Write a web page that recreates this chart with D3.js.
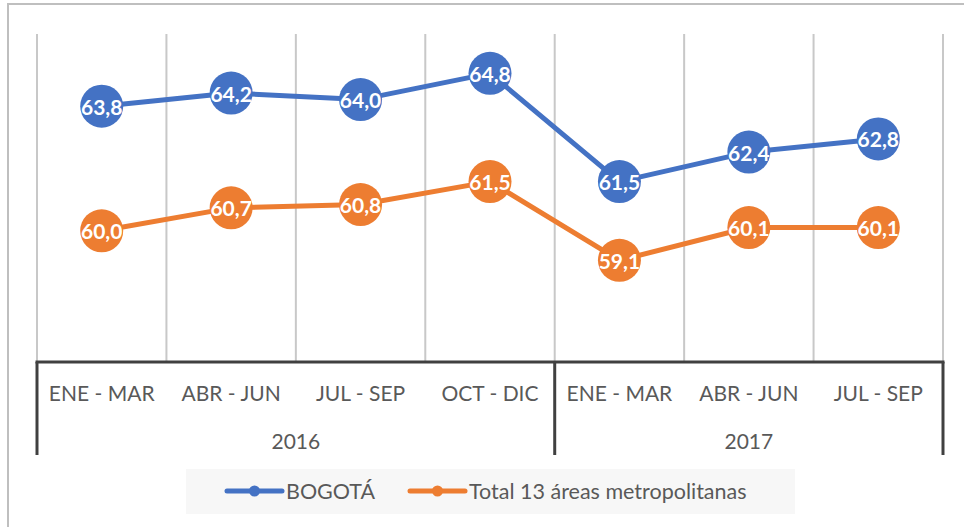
<!DOCTYPE html>
<html><head><meta charset="utf-8">
<script src="https://cdn.jsdelivr.net/npm/d3@7"></script>
<style>html,body{margin:0;padding:0;background:#fff;}svg{display:block;}</style>
</head><body>
<svg id="chart" width="964" height="527"></svg>
<script>
const quarters = ["ENE - MAR","ABR - JUN","JUL - SEP","OCT - DIC","ENE - MAR","ABR - JUN","JUL - SEP"];
const years = ["2016","2017"];
const yearSpans = [4,3];
const seriesNames = ["BOGOTÁ","Total 13 áreas metropolitanas"];
const bogota = [63.8,64.2,64.0,64.8,61.5,62.4,62.8];
const total13 = [60.0,60.7,60.8,61.5,59.1,60.1,60.1];
const colors = ["#4472C4","#ED7D31"];

const font = "Lato, 'Liberation Sans', sans-serif";
const svg = d3.select("#chart");
const L=37, R=943, T=34, B=362;

// outer border
svg.append("rect").attr("x",8).attr("y",4).attr("width",1000).attr("height",600)
  .attr("fill","none").attr("stroke","#bfbfbf").attr("stroke-width",2);

const idx = d3.range(quarters.length);
const x = d3.scaleBand().domain(idx).range([L,R]).padding(0);
const y = d3.scaleLinear().domain([56,66]).range([B,T]);

// gridlines at category boundaries
const bounds = d3.range(quarters.length+1).map(i=> L + i*x.step());
svg.append("g").selectAll("line").data(bounds).join("line")
  .attr("x1",d=>d).attr("x2",d=>d).attr("y1",T).attr("y2",B)
  .attr("stroke","#c8c8c8").attr("stroke-width",2);

// axis line
svg.append("line").attr("x1",L-1.5).attr("x2",R+1.5).attr("y1",B).attr("y2",B)
  .attr("stroke","#404040").attr("stroke-width",3);

// category labels
svg.append("g").selectAll("text").data(idx).join("text")
  .attr("x",i=>x(i)+x.bandwidth()/2).attr("y",392)
  .attr("text-anchor","middle").attr("dominant-baseline","central")
  .attr("font-family",font).attr("font-size",21).attr("fill","#595959")
  .text(i=>quarters[i]);

// year groups
let start=0;
const groups = years.map((yr,k)=>{const g={yr,s:start,e:start+yearSpans[k]}; start+=yearSpans[k]; return g;});
const divs = [0, ...groups.map(g=>g.e)];
svg.append("g").selectAll("line").data(divs).join("line")
  .attr("x1",i=>L+i*x.step()).attr("x2",i=>L+i*x.step()).attr("y1",B).attr("y2",455)
  .attr("stroke","#404040").attr("stroke-width",3);
svg.append("g").selectAll("text").data(groups).join("text")
  .attr("x",g=>L+(g.s+g.e)/2*x.step()).attr("y",440)
  .attr("text-anchor","middle").attr("dominant-baseline","central")
  .attr("font-family",font).attr("font-size",21).attr("fill","#595959")
  .text(g=>g.yr);

// series
const series = [bogota,total13];
const line = d3.line().x((d,i)=>x(i)+x.bandwidth()/2).y(d=>y(d));
series.forEach((s,k)=>{
  svg.append("path").datum(s).attr("d",line).attr("fill","none")
    .attr("stroke",colors[k]).attr("stroke-width",5).attr("stroke-linejoin","round");
});
series.forEach((s,k)=>{
  const g = svg.append("g");
  g.selectAll("circle").data(s).join("circle")
    .attr("cx",(d,i)=>x(i)+x.bandwidth()/2).attr("cy",d=>y(d)).attr("r",21.5)
    .attr("fill",colors[k]);
  g.selectAll("text").data(s).join("text")
    .attr("x",(d,i)=>x(i)+x.bandwidth()/2).attr("y",d=>y(d))
    .attr("text-anchor","middle").attr("dominant-baseline","central")
    .attr("font-family",font).attr("font-weight","bold").attr("font-size",21).attr("fill","#fff")
    .text(d=>d3.format(".1f")(d).replace(".",","));
});

// legend
svg.append("rect").attr("x",186).attr("y",469).attr("width",609).attr("height",45).attr("fill","#f7f7f7");
const legX = [227,410];
seriesNames.forEach((n,k)=>{
  const g = svg.append("g");
  g.append("line").attr("x1",legX[k]).attr("x2",legX[k]+55).attr("y1",491).attr("y2",491)
    .attr("stroke",colors[k]).attr("stroke-width",5).attr("stroke-linecap","round");
  g.append("circle").attr("cx",legX[k]+27.5).attr("cy",491).attr("r",5.5).attr("fill",colors[k]);
  g.append("text").attr("x",legX[k]+59).attr("y",491).attr("dominant-baseline","central")
    .attr("font-family",font).attr("font-size",21.5).attr("fill","#595959").text(n);
});
</script>
</body></html>
